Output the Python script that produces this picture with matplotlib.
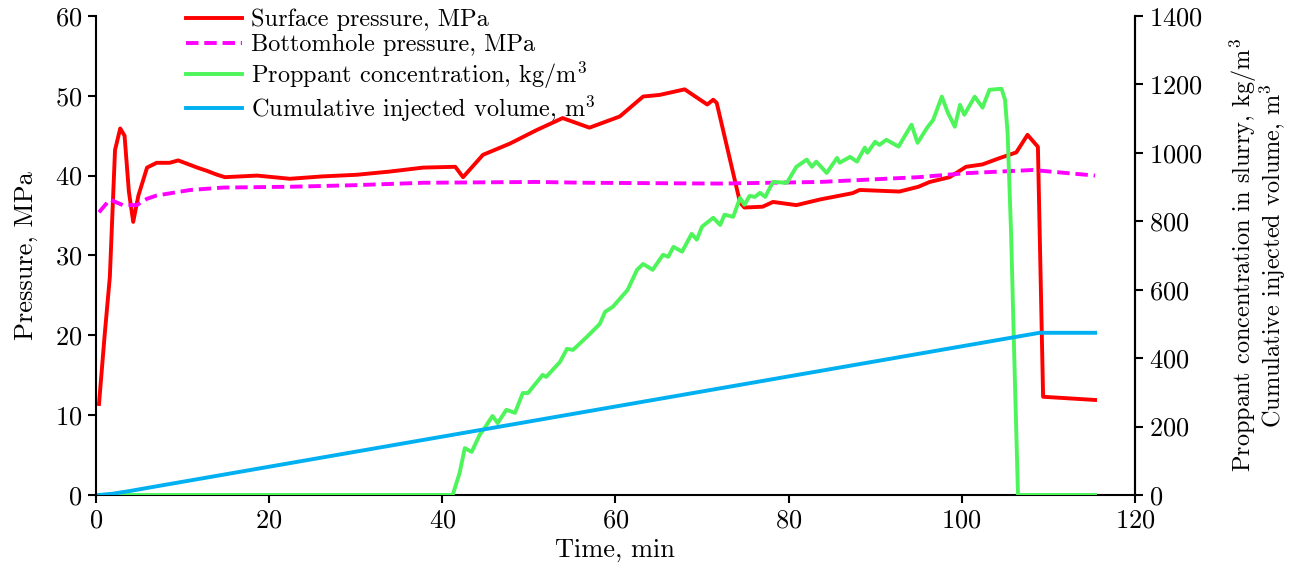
import matplotlib
matplotlib.use("Agg")
import matplotlib.pyplot as plt

plt.rcParams['font.family'] = 'cmr10'
plt.rcParams['mathtext.fontset'] = 'cm'
plt.rcParams['axes.formatter.use_mathtext'] = True
plt.rcParams['font.size'] = 19

# surface pressure, MPa
t_surf = [0.35, 1.0, 1.6, 2.2, 2.8, 3.3, 3.8, 4.3, 4.9, 5.9, 7.0, 8.5, 9.5, 11.7, 12.8,
          14.0, 14.9, 18.6, 22.4, 26.2, 30.1, 33.9, 37.8, 41.5, 42.4, 44.7, 47.8, 50.9,
          53.9, 57.0, 60.5, 63.2, 65.1, 68.0, 70.6, 71.3, 71.7, 74.4, 74.9, 77.0, 78.2,
          80.9, 83.6, 87.4, 88.2, 92.8, 95.0, 96.3, 98.6, 100.5, 102.4, 104.4, 106.3,
          107.6, 108.8, 109.4, 115.4]
p_surf = [11.4, 20.0, 27.3, 43.2, 45.9, 45.0, 38.0, 34.2, 37.5, 41.0, 41.6, 41.6, 41.9,
          41.0, 40.6, 40.1, 39.8, 40.0, 39.6, 39.9, 40.1, 40.5, 41.0, 41.1, 39.8, 42.6,
          44.0, 45.7, 47.2, 46.0, 47.4, 49.9, 50.1, 50.8, 48.9, 49.5, 49.1, 36.6, 36.0,
          36.1, 36.7, 36.3, 37.0, 37.8, 38.2, 38.0, 38.6, 39.2, 39.8, 41.1, 41.4, 42.2,
          42.9, 45.1, 43.6, 12.3, 11.9]

# bottomhole pressure, MPa
t_bh = [0.35, 1.6, 3.1, 4.7, 5.9, 7.0, 10.9, 14.7, 22.4, 30.0, 37.8, 50.9, 56.7, 72.0,
        83.6, 95.0, 100.5, 108.2, 115.4]
p_bh = [35.4, 37.0, 36.3, 36.3, 37.1, 37.5, 38.2, 38.5, 38.6, 38.8, 39.1, 39.2, 39.1,
        39.0, 39.2, 39.8, 40.3, 40.7, 40.0]

# proppant concentration, kg/m3
t_prop = [0.35, 41.2, 42.0, 42.6, 43.4, 44.3, 44.9, 45.8, 46.4, 47.4, 48.4, 49.3, 49.9,
          51.6, 52.0, 53.6, 54.4, 55.1, 56.7, 58.2, 58.8, 59.7, 61.4, 62.5, 63.2, 64.3,
          65.5, 66.1, 66.7, 67.7, 68.8, 69.4, 70.0, 71.3, 72.1, 72.6, 73.6, 74.4, 74.9,
          75.5, 76.1, 76.7, 77.3, 78.2, 79.8, 80.9, 82.1, 82.7, 83.2, 84.4, 85.6, 85.9,
          87.1, 87.9, 88.8, 89.1, 90.0, 90.5, 91.3, 92.7, 94.2, 94.9, 96.0, 96.7, 97.7,
          98.4, 99.2, 99.8, 100.3, 101.5, 102.4, 103.2, 104.6, 105.0, 105.3, 105.7,
          106.1, 106.5, 115.4]
c_prop = [0, 0, 64, 137, 126, 175, 196, 231, 210, 249, 240, 298, 298, 351, 345, 389,
          427, 424, 462, 500, 535, 550, 599, 658, 675, 658, 702, 696, 725, 711, 763, 746,
          784, 810, 789, 819, 813, 868, 848, 874, 871, 883, 871, 915, 912, 959, 980, 959,
          974, 941, 985, 971, 988, 974, 1015, 1000, 1032, 1023, 1038, 1018, 1082, 1029,
          1073, 1096, 1164, 1117, 1076, 1140, 1111, 1164, 1132, 1184, 1187, 1155, 1058,
          766, 374, 0, 0]

# cumulative injected volume, m3
t_vol = [0.35, 2.0, 4.0, 6.0, 109.0, 115.4]
v_vol = [0, 4, 12, 21, 474, 474]

fig = plt.figure(figsize=(12.97, 5.67), dpi=100)
ax = fig.add_axes([0.074, 0.127, 0.801, 0.845])
ax2 = ax.twinx()

lw = 2.8
l1, = ax.plot(t_surf, p_surf, color='#ff0000', lw=lw, label='Surface pressure, MPa', zorder=3)
l2, = ax.plot(t_bh, p_bh, color='#ff00ff', lw=lw, ls=(0, (3.2, 1.5)),
              label='Bottomhole pressure, MPa', zorder=3)
l3, = ax2.plot(t_prop, c_prop, color='#4df55a', lw=lw,
               label='Proppant concentration, kg/m$^3$')
l4, = ax2.plot(t_vol, v_vol, color='#00b0f0', lw=lw,
               label='Cumulative injected volume, m$^3$')

ax.set_xlim(0, 120)
ax.set_ylim(0, 60)
ax2.set_ylim(0, 1400)
ax.set_xticks(range(0, 121, 20))
ax.set_yticks(range(0, 61, 10))
ax2.set_yticks(range(0, 1401, 200))

for a in (ax, ax2):
    a.spines['top'].set_visible(False)
    for s in a.spines.values():
        s.set_linewidth(1.5)
    a.tick_params(direction='out', length=6, width=1.5, labelsize=19, pad=4)
ax2.spines['left'].set_visible(False)
ax2.spines['bottom'].set_visible(False)

ax.set_xlabel('Time, min', labelpad=4)
ax.set_ylabel('Pressure, MPa', labelpad=12)
ax2.set_ylabel('Proppant concentration in slurry, kg/m$^3$\nCumulative injected volume, m$^3$',
               fontsize=17.5, labelpad=18, linespacing=0.95)

ax2.legend(handles=[l1, l2, l3, l4], loc='upper left', bbox_to_anchor=(0.077, 1.035),
           frameon=False, fontsize=17.5, handlelength=2.3, labelspacing=0.12,
           handletextpad=0.4, borderaxespad=0.0)

fig.savefig('out.png', dpi=100)
